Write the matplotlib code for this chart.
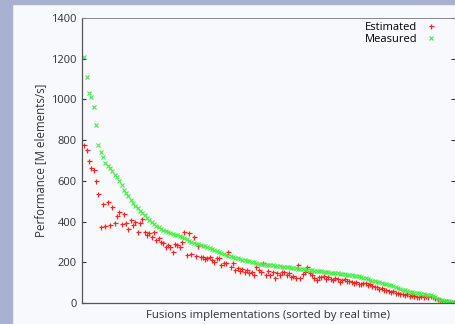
import numpy as np
import matplotlib.pyplot as plt

# performance values [M elements/s], sorted by real time
measured = [1207, 1108, 1030, 1010, 965, 875, 775, 740, 715, 690,
            672, 662, 650, 630, 618, 600, 578, 555, 540, 528,
            508, 490, 478, 466, 452, 442, 430, 420, 410, 400,
            390, 380, 372, 365, 358, 352, 347, 343, 339, 336,
            332, 328, 323, 318, 313, 306, 300, 296, 292, 289,
            286, 282, 278, 274, 270, 266, 262, 257, 252, 247,
            240, 236, 232, 229, 226, 222, 219, 216, 213, 210,
            207, 205, 203, 200, 197, 194, 191, 190, 189, 188,
            187, 185, 183, 182, 181, 179, 178, 177, 175, 174,
            172, 171, 169, 168, 166, 165, 164, 162, 161, 159,
            158, 156, 155, 153, 152, 150, 149, 148, 146, 145,
            143, 142, 141, 140, 138, 137, 135, 133, 131, 128,
            125, 121, 117, 113, 110, 107, 104, 101, 98, 95,
            92, 89, 86, 82, 78, 74, 70, 66, 62, 59,
            56, 53, 51, 49, 47, 45, 43, 41, 40, 38,
            35, 30, 22, 16, 13, 11, 9, 8, 6, 5]

estimated = [776, 751, 699, 661, 653, 601, 534, 375, 486, 380,
             494, 383, 473, 391, 427, 448, 388, 437, 394, 362,
             408, 383, 399, 350, 391, 411, 350, 334, 345, 326,
             350, 309, 318, 301, 293, 277, 285, 277, 252, 290,
             285, 277, 301, 347, 236, 345, 239, 326, 231, 280,
             227, 224, 214, 219, 224, 210, 203, 223, 223, 187,
             198, 198, 252, 178, 195, 162, 170, 157, 165, 154,
             160, 149, 154, 138, 178, 162, 150, 198, 138, 159,
             138, 154, 121, 145, 138, 150, 154, 140, 146, 129,
             135, 121, 187, 121, 142, 150, 178, 145, 138, 125,
             113, 130, 126, 132, 120, 126, 118, 113, 125, 116,
             105, 112, 116, 108, 110, 105, 97, 102, 95, 92,
             100, 98, 88, 92, 85, 77, 80, 67, 72, 64,
             66, 60, 55, 58, 50, 48, 43, 45, 39, 42,
             34, 38, 33, 30, 28, 32, 30, 35, 31, 33,
             30, 26, 20, 15, 12, 10, 8, 7, 5, 4]

yticks = [0, 200, 400, 600, 800, 1000, 1200, 1400]

plt.rcParams['font.family'] = ['Open Sans', 'DejaVu Sans']

fig = plt.figure(figsize=(4.56, 3.24), dpi=100, facecolor='#f8f9fc')
# bluish frame strips of the screenshot
fig.patches.append(plt.Rectangle((0, 0), 12 / 456, 1, transform=fig.transFigure,
                                 color='#a9b1d1', zorder=0))
fig.patches.append(plt.Rectangle((0, 1 - 4 / 324), 1, 4 / 324, transform=fig.transFigure,
                                 color='#a9b1d1', zorder=0))

ax = fig.add_axes([82 / 456, 21 / 324, 373 / 456, 285 / 324])
ax.set_facecolor('#f8f9fc')

x = np.arange(len(measured))
ax.plot(x, estimated, linestyle='none', marker='+', color='#ff2222',
        markersize=3.6, markeredgewidth=0.9, label='Estimated')
ax.plot(x, measured, linestyle='none', marker='x', color='#44ee44',
        markersize=2.6, markeredgewidth=0.8, label='Measured')

ax.set_xlim(-1, len(measured) - 0.5)
ax.set_ylim(0, 1400)
ax.set_yticks(yticks)
ax.set_xticks([])
ax.tick_params(axis='y', direction='in', length=3, width=0.8, labelsize=8,
               right=True, pad=4, colors='#333333')

for side in ['left', 'bottom']:
    ax.spines[side].set_color('#555555')
    ax.spines[side].set_linewidth(0.9)
for side in ['top', 'right']:
    ax.spines[side].set_color('#888888')
    ax.spines[side].set_linewidth(0.7)

ax.set_ylabel('Performance [M elements/s]', fontsize=8.3, color='#333333', labelpad=3)
ax.set_xlabel('Fusions implementations (sorted by real time)', fontsize=8.2,
              color='#333333', labelpad=5)

ax.legend(loc='upper right', frameon=False, markerfirst=False, fontsize=8,
          handlelength=1.0, handletextpad=0.7, borderaxespad=0.1,
          labelspacing=0.05, bbox_to_anchor=(0.965, 1.005))

fig.savefig('out.png', dpi=100, facecolor=fig.get_facecolor())
